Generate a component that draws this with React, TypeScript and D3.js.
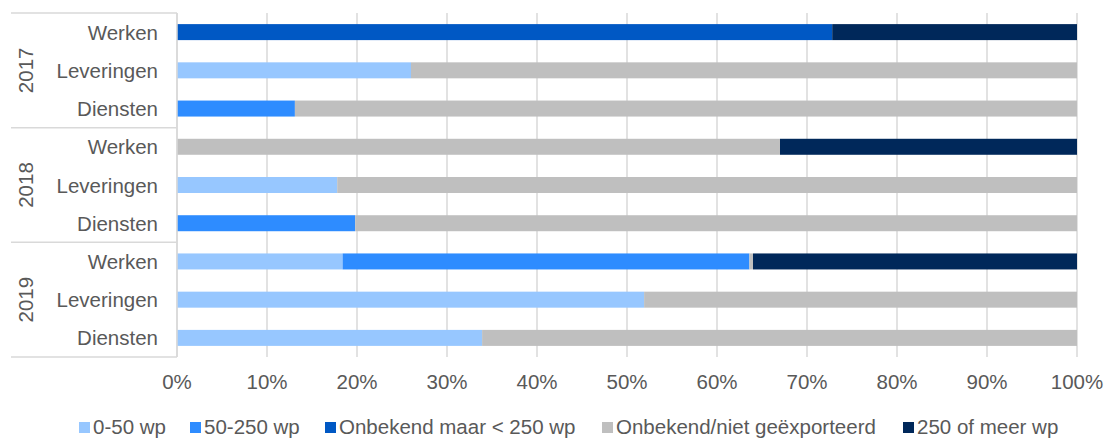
import React from "react";
import * as d3 from "d3";

const years = ["2017", "2018", "2019"];
const categories = ["Werken", "Leveringen", "Diensten"];
const seriesNames = [
  "0-50 wp",
  "50-250 wp",
  "Onbekend maar < 250 wp",
  "Onbekend/niet geëxporteerd",
  "250 of meer wp",
];
// values per row, top to bottom: 2017 W/L/D, 2018 W/L/D, 2019 W/L/D
const s0_50 = [0, 26.0, 0, 0, 17.8, 0, 18.4, 51.9, 33.9];
const s50_250 = [0, 0, 13.1, 0, 0, 19.8, 45.2, 0, 0];
const sOnbekendKlein = [72.8, 0, 0, 0, 0, 0, 0, 0, 0];
const sOnbekend = [0, 74.0, 86.9, 67.0, 82.2, 80.2, 0.4, 48.1, 66.1];
const s250plus = [27.2, 0, 0, 33.0, 0, 0, 36.0, 0, 0];
const xTicks = [0, 10, 20, 30, 40, 50, 60, 70, 80, 90, 100];

const colors = ["#97c7ff", "#2e8cff", "#0058c4", "#bfbfbf", "#00285a"];
const legendX = [79, 190, 325, 602, 903];
const FONT = "'Liberation Sans', Arial, sans-serif";
const TXT = "#595959";
const GRID = "#d9d9d9";

export default function App() {
  const W = 1105, H = 439;
  const left = 177, right = 1077, top = 13, bottom = 357;
  const rows = years.flatMap((y) => categories.map((c) => `${y}|${c}`));
  const x = d3.scaleLinear().domain([0, 100]).range([left, right]);
  const y = d3.scaleBand().domain(rows).range([top, bottom]).paddingInner(0).paddingOuter(0);
  const barH = 16;
  const seriesData = [s0_50, s50_250, sOnbekendKlein, sOnbekend, s250plus];
  const table = rows.map((r, i) => {
    const o: any = { row: r };
    seriesNames.forEach((n, k) => (o[n] = seriesData[k][i]));
    return o;
  });
  const stacked = d3.stack().keys(seriesNames)(table);
  const groupH = y.bandwidth() * categories.length;
  const fs = 20.5;

  return (
    <svg width={W} height={H} style={{ position: "absolute", left: 0, top: 0, background: "#fff" }} fontFamily={FONT}>
      {xTicks.map((t) => (
        <line key={t} x1={x(t)} x2={x(t)} y1={top} y2={bottom} stroke={GRID} strokeWidth={1.5} />
      ))}
      {stacked.map((s, k) => (
        <g key={k} fill={colors[k]}>
          {s.map((d, i) =>
            d[1] - d[0] > 0 ? (
              <rect
                key={i}
                x={x(d[0])}
                width={x(d[1]) - x(d[0])}
                y={(y(rows[i]) as number) + y.bandwidth() / 2 - barH / 2}
                height={barH}
              />
            ) : null
          )}
        </g>
      ))}
      <line x1={left} x2={left} y1={top} y2={bottom} stroke={GRID} strokeWidth={1.5} />
      {years.map((yr, g) => {
        const y0 = top + g * groupH;
        return (
          <g key={yr}>
            <line x1={11} x2={left} y1={y0} y2={y0} stroke={GRID} strokeWidth={1.5} />
            <text
              transform={`translate(${25},${y0 + groupH / 2}) rotate(-90)`}
              textAnchor="middle"
              dominantBaseline="central"
              fontSize={fs}
              fill={TXT}
            >
              {yr}
            </text>
          </g>
        );
      })}
      <line x1={11} x2={left} y1={bottom} y2={bottom} stroke={GRID} strokeWidth={1.5} />
      {rows.map((r) => (
        <text
          key={r}
          x={158}
          y={(y(r) as number) + y.bandwidth() / 2}
          textAnchor="end"
          dominantBaseline="central"
          fontSize={fs}
          fill={TXT}
        >
          {r.split("|")[1]}
        </text>
      ))}
      {xTicks.map((t) => (
        <text key={t} x={x(t)} y={389} textAnchor="middle" fontSize={fs} fill={TXT}>
          {`${t}%`}
        </text>
      ))}
      {seriesNames.map((n, i) => (
        <g key={n}>
          <rect x={legendX[i]} y={422} width={11} height={11} fill={colors[i]} />
          <text x={legendX[i] + 14} y={434} fontSize={fs} fill={TXT}>
            {n}
          </text>
        </g>
      ))}
    </svg>
  );
}
